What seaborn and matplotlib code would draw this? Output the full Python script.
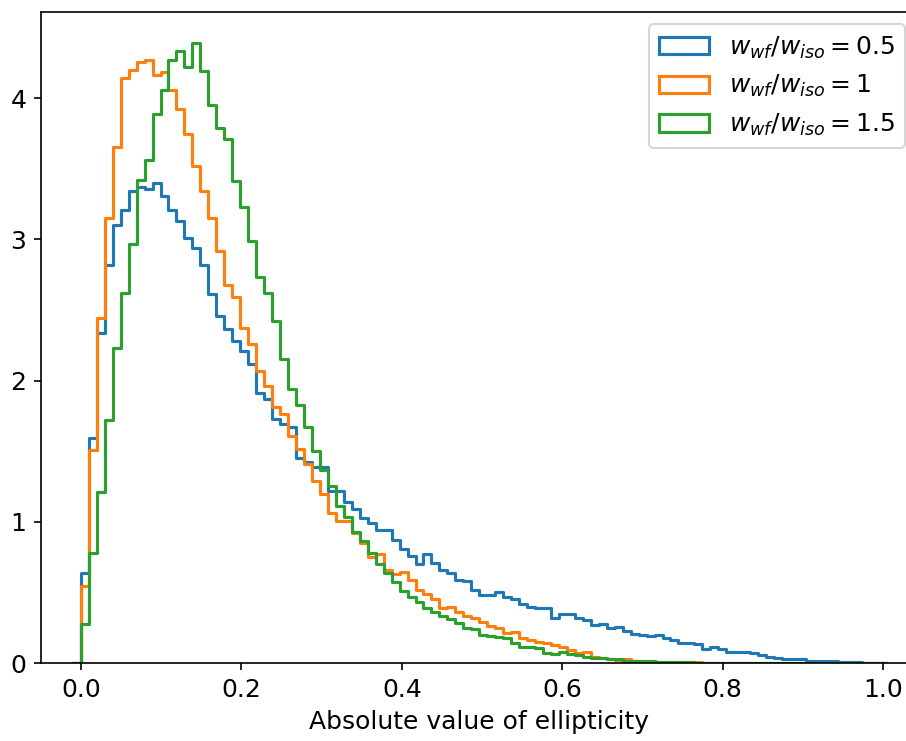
import numpy as np
import pandas as pd
import matplotlib
matplotlib.use("Agg")
import matplotlib.pyplot as plt
from matplotlib.patches import Patch
import seaborn as sns

plt.rcParams["font.size"] = 12

# ---- data (density per bin, 100 bins between 0 and ~0.993) ----
x_min, x_max, n_bins = 0.0, 0.993, 100

ratio_labels = ["0.5", "1", "1.5"]

density_05 = [
    0.64, 1.59, 2.34, 2.82, 3.10, 3.21, 3.34, 3.37, 3.355, 3.40,
    3.31, 3.21, 3.13, 3.01, 2.94, 2.82, 2.61, 2.46, 2.365, 2.28,
    2.21, 2.12, 1.91, 1.87, 1.73, 1.69, 1.67, 1.45, 1.42, 1.39,
    1.39, 1.22, 1.22, 1.14, 1.09, 1.03, 0.99, 0.94, 0.94, 0.87,
    0.81, 0.76, 0.70, 0.77, 0.71, 0.66, 0.64, 0.59, 0.58, 0.52,
    0.48, 0.48, 0.50, 0.47, 0.45, 0.42, 0.40, 0.39, 0.39, 0.32,
    0.347, 0.347, 0.316, 0.305, 0.27, 0.275, 0.25, 0.255, 0.23, 0.205,
    0.20, 0.19, 0.195, 0.175, 0.165, 0.14, 0.14, 0.135, 0.10, 0.11,
    0.10, 0.08, 0.08, 0.08, 0.07, 0.055, 0.045, 0.035, 0.027, 0.027,
    0.027, 0.017, 0.017, 0.012, 0.012, 0.007, 0.007, 0.005, 0.003, 0.001,
]

density_10 = [
    0.545, 1.508, 2.44, 3.153, 3.655, 4.144, 4.198, 4.255, 4.27, 4.163,
    4.186, 4.057, 3.92, 3.745, 3.518, 3.34, 3.15, 2.92, 2.68, 2.59,
    2.37, 2.26, 2.07, 1.96, 1.81, 1.76, 1.61, 1.515, 1.41, 1.29,
    1.196, 1.06, 1.007, 1.007, 0.918, 0.847, 0.748, 0.77, 0.658, 0.63,
    0.645, 0.588, 0.52, 0.488, 0.455, 0.39, 0.395, 0.36, 0.33, 0.32,
    0.287, 0.265, 0.245, 0.21, 0.22, 0.175, 0.16, 0.15, 0.145, 0.128,
    0.115, 0.09, 0.07, 0.08, 0.045, 0.035, 0.027, 0.02, 0.03, 0.017,
    0.014, 0.012, 0.010, 0.008, 0.007, 0.006, 0.005, 0.004, 0.003, 0.003,
    0.002, 0.002, 0.001, 0.0, 0.0, 0.0, 0.0, 0.0, 0.0, 0.0,
    0.0, 0.0, 0.0, 0.0, 0.0, 0.0, 0.0, 0.0, 0.0, 0.0,
]

density_15 = [
    0.274, 0.776, 1.213, 1.72, 2.23, 2.62, 2.97, 3.42, 3.56, 3.89,
    4.06, 4.27, 4.33, 4.22, 4.39, 4.19, 3.95, 3.79, 3.71, 3.41,
    3.23, 2.99, 2.735, 2.62, 2.42, 2.15, 1.94, 1.83, 1.67, 1.50,
    1.366, 1.25, 1.11, 1.036, 0.93, 0.864, 0.78, 0.70, 0.64, 0.57,
    0.51, 0.47, 0.434, 0.39, 0.36, 0.33, 0.31, 0.285, 0.25, 0.24,
    0.20, 0.19, 0.187, 0.175, 0.14, 0.11, 0.11, 0.105, 0.068, 0.065,
    0.075, 0.065, 0.055, 0.045, 0.035, 0.035, 0.027, 0.027, 0.017, 0.017,
    0.012, 0.012, 0.007, 0.007, 0.006, 0.005, 0.004, 0.003, 0.0, 0.0,
    0.003, 0.003, 0.0, 0.003, 0.003, 0.0, 0.0, 0.002, 0.002, 0.002,
    0.002, 0.0, 0.0, 0.0, 0.0, 0.0, 0.0, 0.0, 0.0, 0.0,
]

series = [density_05, density_10, density_15]
colors = ["#1f77b4", "#ff7f0e", "#2ca02c"]
x_label = "Absolute value of ellipticity"

# ---- bins (one empty bin on each side so the outline starts/ends at zero) ----
edges = np.linspace(x_min, x_max, n_bins + 1)
width = edges[1] - edges[0]
ext_edges = np.concatenate([[edges[0] - width], edges, [edges[-1] + width]])
centers = 0.5 * (ext_edges[:-1] + ext_edges[1:])
bin_list = [float(e) for e in ext_edges]

fig, ax = plt.subplots(figsize=(906 / 150, 741 / 150), dpi=150)
fig.subplots_adjust(left=41 / 906, right=917.5 / 906, bottom=78 / 741, top=729 / 741)

handles, labels = [], []
for lab, dens, col in zip(ratio_labels, series, colors):
    w = np.concatenate([[0.0], np.asarray(dens, dtype=float), [0.0]])
    df = pd.DataFrame({"x": centers, "w": w})
    sns.histplot(data=df, x="x", weights="w", bins=bin_list, stat="count",
                 element="step", fill=False, color=col, linewidth=1.5, ax=ax)
    handles.append(Patch(facecolor="none", edgecolor=col, linewidth=1.5))
    labels.append(r"$w_{wf}/w_{iso} = %s$" % lab)

span = x_max - x_min
ax.set_xlim(x_min - 0.05 * span, x_max + 0.05 * span)
ymax = max(max(s) for s in series)
ax.set_ylim(0, ymax * 1.05)
ax.set_xticks([0.0, 0.2, 0.4, 0.6, 0.8, 1.0])
ax.set_yticks([0, 1, 2, 3, 4])
ax.set_xlabel(x_label)
ax.set_ylabel("")
ax.legend(handles, labels, loc="upper right")

fig.savefig("out.png", dpi=150)
